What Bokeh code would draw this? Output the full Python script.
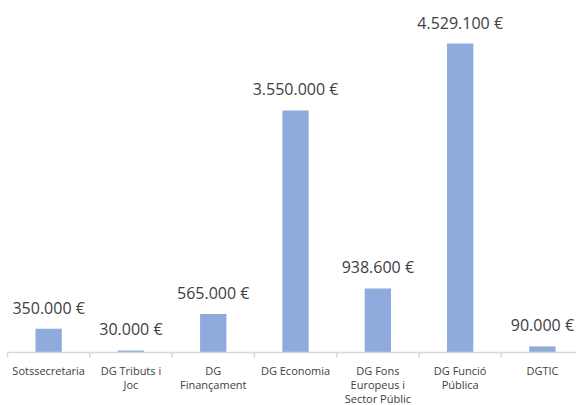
from bokeh.plotting import figure
from bokeh.models import ColumnDataSource, Range1d
from bokeh.core.properties import value
from bokeh.embed import file_html
from bokeh.resources import INLINE

categories = ["Sotssecretaria", "DG Tributs i Joc", "DG Finançament", "DG Economia",
              "DG Fons Europeus i Sector Públic", "DG Funció Pública", "DGTIC"]
label_lines = [["Sotssecretaria"], ["DG Tributs i", "Joc"], ["DG", "Finançament"],
               ["DG Economia"], ["DG Fons", "Europeus i", "Sector Públic"],
               ["DG Funció", "Pública"], ["DGTIC"]]
amounts = [350000, 30000, 565000, 3550000, 938600, 4529100, 90000]
amount_labels = ["350.000 €", "30.000 €", "565.000 €", "3.550.000 €", "938.600 €",
                 "4.529.100 €", "90.000 €"]

xs = list(range(len(categories)))
px_per_unit = 68.2e-6  # pixels per euro
cat_px = 82.3
x0 = -0.5 - 7 / cat_px

p = figure(width=576, height=405, output_backend="svg", toolbar_location=None,
           x_range=Range1d(x0, x0 + 576 / cat_px),
           y_range=Range1d(-53 / px_per_unit, 352 / px_per_unit),
           min_border=0)
p.axis.visible = False
p.grid.visible = False
p.outline_line_color = None
p.background_fill_color = "white"

src = ColumnDataSource(dict(x=xs, top=amounts, lab=amount_labels))
p.vbar(x="x", top="top", width=0.32, bottom=0, source=src, fill_color="#8FAADC",
       line_color=None)
p.text(x="x", y="top", text="lab", source=src, text_align="center",
       text_baseline="middle", y_offset=-21, text_font=value("Open Sans"),
       text_font_size="16px", text_color="#404040")

# axis line and separators
p.segment(x0=[-0.5], y0=[0], x1=[len(categories)], y1=[0], line_color="#D9D9D9",
          line_width=1.5)
bounds = [i - 0.5 for i in range(len(categories) + 1)]
p.segment(x0=bounds, y0=[0] * len(bounds), x1=bounds,
          y1=[-5 / px_per_unit] * len(bounds), line_color="#D9D9D9", line_width=1.5)

lx, ltxt, loff = [], [], []
for i, lines in enumerate(label_lines):
    for j, t in enumerate(lines):
        lx.append(i)
        ltxt.append(t)
        loff.append(18 + 14 * j)
lsrc = ColumnDataSource(dict(x=lx, y=[0] * len(lx), t=ltxt, off=loff))
p.text(x="x", y="y", text="t", y_offset="off", source=lsrc, text_align="center",
       text_baseline="middle", text_font=value("Open Sans"), text_font_size="11px",
       text_color="#404040")

open("out.html", "w").write(file_html(p, INLINE))
